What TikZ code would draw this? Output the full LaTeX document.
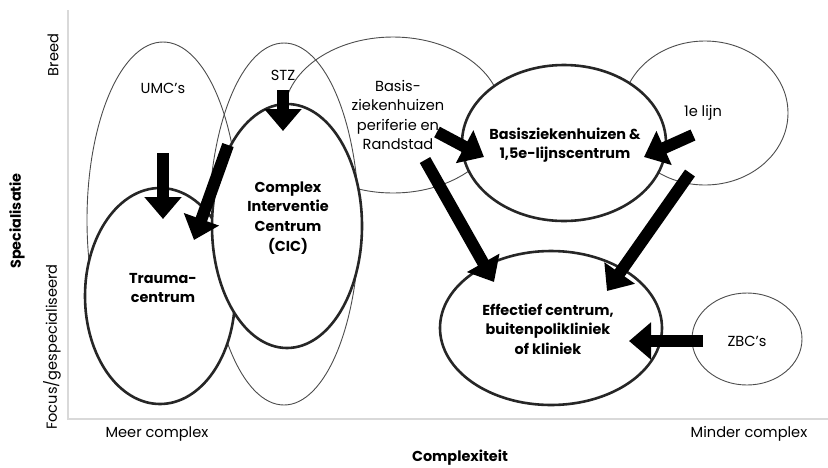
\documentclass[tikz,border=0pt]{standalone}
\usepackage{fontspec}
\setmainfont{Poppins}
\usetikzlibrary{shapes.geometric,arrows.meta}
\begin{document}
\begin{tikzpicture}[x=1pt,y=-1pt,
  thinell/.style={ellipse,draw=black!70,line width=0.9pt,inner sep=0pt},
  thickell/.style={ellipse,draw=black!85,line width=2.6pt,fill=white,inner sep=0pt},
  lbl/.style={font=\fontsize{14.6}{19.5}\selectfont,align=center,inner sep=0pt},
  blbl/.style={font=\fontsize{14.4}{19.7}\selectfont\bfseries,align=center,inner sep=0pt},
  bigarrow/.style={line width=12pt,black,-{Triangle[length=22pt,width=36pt]}},
  axisline/.style={draw=black!15,line width=2.5pt}]
\useasboundingbox (0,0) rectangle (828,467);
% axes
\coordinate (o) at (68,419);
\coordinate (ytop) at (68,10);
\coordinate (xend) at (828,419);
\draw[axisline] (ytop) -- (o) -- (xend);
% thin ellipses
\node[thinell,minimum width=152pt,minimum height=356pt] (umc) at (163,220) {};
\node[thinell,minimum width=150pt,minimum height=362pt] (stz) at (284,224) {};
\node[thinell,minimum width=218pt,minimum height=156pt] (peri) at (393,115) {};
\node[thinell,minimum width=166pt,minimum height=144pt] (eerste) at (705,113) {};
\node[thinell,minimum width=110pt,minimum height=92pt] (zbc) at (747,339) {};
% thick ellipses
\node[thickell,minimum width=150pt,minimum height=216pt] (trauma) at (160,296) {};
\node[thickell,minimum width=150pt,minimum height=244pt] (cic) at (287,226) {};
\node[thickell,minimum width=204pt,minimum height=156pt] (basis) at (564,143) {};
\node[thickell,minimum width=222pt,minimum height=154pt] (eff) at (551,328) {};
% labels
\node[lbl] (tumc) at (163,88) {UMC's};
\node[lbl] (tstz) at (283,75) {STZ};
\node[lbl] (tperi) at (398,115) {Basis-\\ziekenhuizen\\periferie en\\Randstad};
\node[lbl] (teerste) at (703,113) {1e lijn};
\node[lbl] (tzbc) at (747,341) {ZBC's};
\node[blbl] (tcic) at (288,218) {Complex\\Interventie\\Centrum\\(CIC)};
\node[blbl] (ttrauma) at (163,288) {Trauma-\\centrum};
\node[blbl] (tbasis) at (565,145) {Basisziekenhuizen \&\\1,5e-lijnscentrum};
\node[blbl] (teff) at (548,329) {Effectief centrum,\\buitenpolikliniek\\of kliniek};
% axis labels
\node[lbl,rotate=90] (tbreed) at (53,55) {Breed};
\node[lbl,rotate=90] (tfocus) at (52,347) {Focus/gespecialiseerd};
\node[blbl,rotate=90] (tspec) at (17,221) {Specialisatie};
\node[lbl] (tmeer) at (157,434) {Meer complex};
\node[lbl] (tminder) at (749,434) {Minder complex};
\node[blbl] (tcompl) at (460,458) {Complexiteit};
% arrow end points
\coordinate (a1s) at (163,153); \coordinate (a1e) at (163,219);
\coordinate (a2s) at (228,145); \coordinate (a2e) at (194,240);
\coordinate (a3s) at (283,90);  \coordinate (a3e) at (283,131);
\coordinate (a4s) at (437,132); \coordinate (a4e) at (484,157);
\coordinate (a5s) at (693,135); \coordinate (a5e) at (644,157);
\coordinate (a6s) at (425,160); \coordinate (a6e) at (494,282);
\coordinate (a7s) at (690,173); \coordinate (a7e) at (607,291);
\coordinate (a8s) at (703,341); \coordinate (a8e) at (629,341);
\draw[bigarrow] (a1s) -- (a1e);
\draw[bigarrow] (a2s) -- (a2e);
\draw[bigarrow] (a3s) -- (a3e);
\draw[bigarrow] (a4s) -- (a4e);
\draw[bigarrow] (a5s) -- (a5e);
\draw[bigarrow] (a6s) -- (a6e);
\draw[bigarrow] (a7s) -- (a7e);
\draw[bigarrow] (a8s) -- (a8e);
\end{tikzpicture}
\end{document}
